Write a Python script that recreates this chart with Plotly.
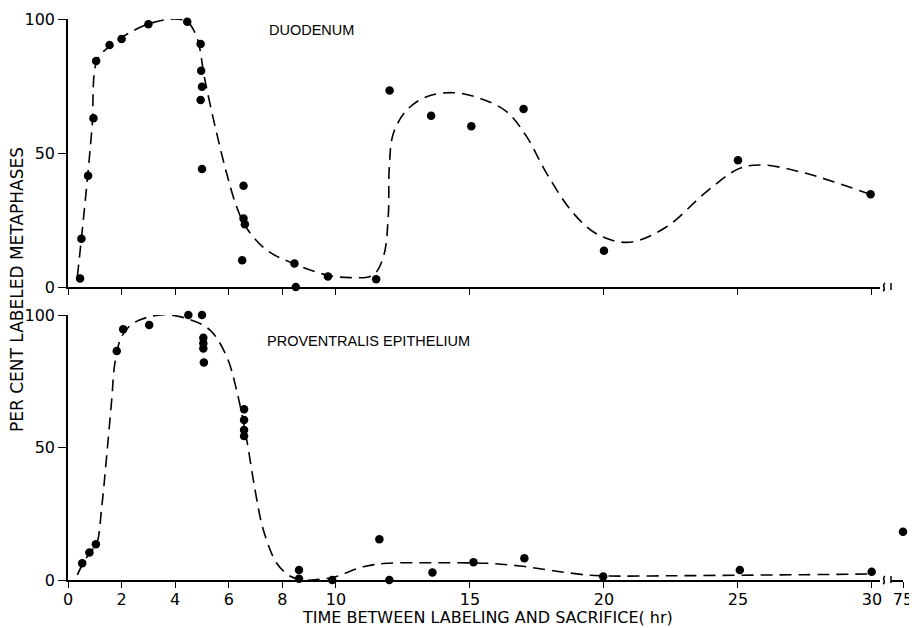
import plotly.graph_objects as go

# ---------------- data ----------------
tick_vals = [0, 2, 4, 6, 8, 10, 15, 20, 25, 30]
tick_text = ["0", "2", "4", "6", "8", "10", "15", "20", "25", "30"]
y_ticks = [0, 50, 100]
y_tick_text = ["0", "50", "100"]

# Duodenum: observed points
duo_x = [0.45, 0.5, 0.75, 0.95, 1.05, 1.55, 2.0, 3.0, 4.45, 4.95, 4.97, 5.0, 4.95, 5.0,
         6.55, 6.55, 6.6, 6.5, 8.45, 8.5, 9.7, 11.5, 12.0, 13.55, 15.05, 17.0, 20.0, 25.0, 29.95]
duo_y = [3.2, 18, 41.5, 63, 84.3, 90.3, 92.5, 98, 99, 90.7, 80.7, 74.7, 69.8, 44,
         37.8, 25.6, 23.4, 10, 8.8, 0, 3.9, 2.9, 73.3, 63.9, 60, 66.4, 13.5, 47.3, 34.6]

# Duodenum: hand-drawn curve
duo_cx = [0.35, 0.5, 0.73, 0.9, 1.09, 1.57, 2.06, 3.02, 3.93, 4.44, 4.8, 5.11, 5.55, 5.92,
          6.29, 6.67, 7.41, 8.35, 9.65, 10.52, 11.39, 11.77, 11.95, 11.99, 12.14, 12.64,
          13.38, 14.38, 15.37, 16.37, 17.12, 17.86, 18.86, 19.8, 20.97, 22.34, 23.83,
          25.07, 25.94, 27.31, 28.56, 29.93]
duo_cy = [3.9, 18, 41, 60, 84.7, 90, 93.5, 98.2, 100, 99, 93.4, 77.2, 57.3, 42.4,
          30, 21.9, 13.8, 9, 4.5, 3.5, 4.5, 11.3, 26.2, 44.9, 57.3, 66,
          71, 72.5, 70.4, 65.4, 56, 42.4, 27.5, 19.4, 16.7, 22.5, 35.6,
          44.3, 45.5, 43, 39.3, 34.6]

# Proventralis epithelium: observed points
prov_x = [0.53, 0.8, 1.04, 1.82, 2.06, 3.03, 4.49, 5.0, 5.05, 5.05, 5.05, 5.07,
          6.57, 6.57, 6.57, 6.57, 8.62, 8.62, 9.86, 11.62, 11.99, 13.6, 15.13, 17.03,
          19.97, 25.07, 29.99]
prov_y = [6.3, 10.4, 13.5, 86.4, 94.6, 96.2, 100, 100, 91.4, 89.3, 87.4, 82.1,
          64.4, 60.4, 56.6, 54.3, 3.8, 0.5, 0, 15.4, 0, 2.8, 6.7, 8.2,
          1.3, 3.8, 3.1]
prov_far_x = [75]
prov_far_y = [18.2]

# Proventralis epithelium: hand-drawn curve
prov_cx = [0.35, 0.56, 0.81, 1.07, 1.26, 1.44, 1.63, 1.75, 2.0, 2.44, 3.43, 4.43, 5.3,
           5.92, 6.29, 6.67, 6.98, 7.29, 7.79, 8.28, 8.78, 9.4, 9.9, 11.02, 11.9, 13.13,
           14.38, 15.62, 16.87, 18.1, 19.35, 20.2, 22.5, 25, 27.5, 30]
prov_cy = [1.9, 6.3, 10.2, 13.8, 27.7, 46.5, 67.9, 81.8, 91.8, 96.9, 100, 98.7, 94.3,
           84.3, 71.7, 52.8, 34, 18.9, 6.3, 1.5, 0, 0.3, 1, 5, 6.3, 6.5,
           6.5, 6.3, 5.3, 3.5, 1.9, 1.5, 1.6, 1.8, 2.0, 2.3]

# ---------------- figure ----------------
OFF = 8                      # page body margin of the html page
PAGE_W, PAGE_H = 917, 628
W, H = PAGE_W - OFF, PAGE_H - OFF
# plot area in page pixels
P_LEFT, P_RIGHT, P_TOP, P_BOTTOM = 68, 904, 19, 580
ML, MT = P_LEFT - OFF, P_TOP - OFF
MR, MB = W - (P_RIGHT - OFF), H - (P_BOTTOM - OFF)
PW, PH = P_RIGHT - P_LEFT, P_BOTTOM - P_TOP

def px(xp):
    return (xp - P_LEFT) / PW

def py(yp):
    return (P_BOTTOM - yp) / PH

FONT = "DejaVu Sans"
FONT2 = "Liberation Sans"
dot = dict(color="black", size=8.5)
dash_line = dict(color="black", width=1.6, dash="12px,7px")

fig = go.Figure()
fig.add_trace(go.Scatter(x=duo_cx, y=duo_cy, mode="lines", line=dash_line, line_shape="spline",
                         xaxis="x2", yaxis="y2", hoverinfo="skip", cliponaxis=False))
fig.add_trace(go.Scatter(x=duo_x, y=duo_y, mode="markers", marker=dot,
                         xaxis="x2", yaxis="y2", cliponaxis=False))
fig.add_trace(go.Scatter(x=prov_cx, y=prov_cy, mode="lines", line=dash_line, line_shape="spline",
                         xaxis="x", yaxis="y", hoverinfo="skip", cliponaxis=False))
fig.add_trace(go.Scatter(x=prov_x, y=prov_y, mode="markers", marker=dot,
                         xaxis="x", yaxis="y", cliponaxis=False))
fig.add_trace(go.Scatter(x=prov_far_x, y=prov_far_y, mode="markers", marker=dot,
                         xaxis="x3", yaxis="y", cliponaxis=False))

main_dom = [0, px(880)]
stub_dom = [px(891), px(903)]
axis_common = dict(showline=True, linecolor="black", linewidth=1.6, ticks="outside",
                   ticklen=6, tickwidth=1.4, tickcolor="black", showgrid=False,
                   zeroline=False, automargin=False,
                   tickfont=dict(family=FONT, size=16, color="black"))
x_common = {**axis_common, "ticklabelstandoff": -2}

fig.update_layout(
    width=W, height=H, margin=dict(l=ML, r=MR, t=MT, b=MB, autoexpand=False),
    paper_bgcolor="white", plot_bgcolor="white", showlegend=False,
    font=dict(family=FONT, color="black"),
    xaxis=dict(domain=main_dom, range=[0, 30.3], anchor="y", tickmode="array",
               tickvals=tick_vals, ticktext=tick_text, **x_common),
    xaxis2=dict(domain=main_dom, range=[0, 30.3], anchor="y2", tickmode="array",
                tickvals=tick_vals, showticklabels=False, **x_common),
    xaxis3=dict(domain=stub_dom, range=[74, 75], anchor="y", tickmode="array",
                tickvals=[75], ticktext=["75"], **x_common),
    xaxis4=dict(domain=stub_dom, range=[74, 75], anchor="y2", tickmode="array",
                tickvals=[75], showticklabels=False, **x_common),
    yaxis=dict(domain=[0, py(315)], range=[0, 100], anchor="x", tickmode="array",
               tickvals=y_ticks, ticktext=y_tick_text, **{**axis_common, "ticklen": 8}),
    yaxis2=dict(domain=[py(287), 1], range=[0, 100], anchor="x2", tickmode="array",
                tickvals=y_ticks, ticktext=y_tick_text, **{**axis_common, "ticklen": 8}),
)

# axis-break decorations (squiggle + stub end bar) for both panels
shapes = []
for base in (580, 287):
    x0 = 884
    path = (f"M {px(x0-1)},{py(base+4)} C {px(x0+3)},{py(base+2)} {px(x0-3)},{py(base-1)} "
            f"{px(x0+1)},{py(base-4)}")
    shapes.append(dict(type="path", xref="paper", yref="paper", path=path,
                       line=dict(color="black", width=1.5)))
    shapes.append(dict(type="line", xref="paper", yref="paper",
                       x0=px(891), x1=px(891), y0=py(base - 4), y1=py(base + 3),
                       line=dict(color="black", width=1.5)))
fig.update_layout(shapes=shapes)

fig.add_annotation(text="DUODENUM", x=px(267), y=py(30), xref="paper", yref="paper",
                   xanchor="left", yanchor="middle", showarrow=False,
                   font=dict(family=FONT2, size=14.5, color="black"))
fig.add_annotation(text="PROVENTRALIS EPITHELIUM", x=px(265), y=py(341), xref="paper",
                   yref="paper", xanchor="left", yanchor="middle", showarrow=False,
                   font=dict(family=FONT2, size=14.5, color="black"))
fig.add_annotation(text="TIME BETWEEN LABELING AND SACRIFICE( hr)", x=px(487), y=py(617),
                   xref="paper", yref="paper", xanchor="center", yanchor="middle",
                   showarrow=False, font=dict(family=FONT, size=16, color="black"))
fig.add_annotation(text="PER CENT LABELED METAPHASES", x=px(17), y=py(290), xref="paper",
                   yref="paper", xanchor="center", yanchor="middle", textangle=-90,
                   showarrow=False, font=dict(family=FONT, size=17, color="black"))

fig.write_html("out.html")
